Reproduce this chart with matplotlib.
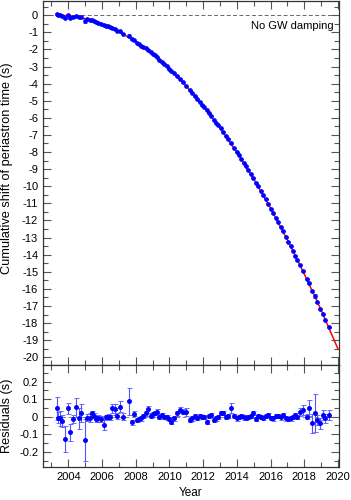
import matplotlib
matplotlib.use("Agg")
import matplotlib.pyplot as plt
from matplotlib.ticker import MultipleLocator

plt.rcParams['font.family'] = ['Liberation Sans', 'DejaVu Sans']
plt.rcParams['axes.unicode_minus'] = False

# Observation epochs (year)
years = [2003.31, 2003.41, 2003.51, 2003.64, 2003.80, 2003.96, 2004.12, 2004.30, 2004.45, 2004.61,
         2004.77, 2004.97, 2005.13, 2005.28, 2005.40, 2005.54, 2005.64, 2005.78, 2005.92, 2006.11,
         2006.23, 2006.37, 2006.47, 2006.61, 2006.77, 2006.91, 2007.08, 2007.26, 2007.58, 2007.75,
         2007.91, 2008.09, 2008.21, 2008.33, 2008.45, 2008.58, 2008.72, 2008.88, 2009.00, 2009.12,
         2009.24, 2009.40, 2009.53, 2009.67, 2009.83, 2009.97, 2010.09, 2010.25, 2010.42, 2010.62,
         2010.81, 2011.01, 2011.21, 2011.35, 2011.51, 2011.66, 2011.80, 2011.94, 2012.06, 2012.20,
         2012.34, 2012.49, 2012.65, 2012.77, 2012.89, 2013.03, 2013.19, 2013.34, 2013.48, 2013.68,
         2013.84, 2013.98, 2014.11, 2014.27, 2014.41, 2014.53, 2014.67, 2014.83, 2014.96, 2015.12,
         2015.26, 2015.42, 2015.56, 2015.70, 2015.85, 2016.01, 2016.15, 2016.31, 2016.45, 2016.60,
         2016.74, 2016.90, 2017.04, 2017.18, 2017.34, 2017.47, 2017.59, 2017.75, 2017.93, 2018.13,
         2018.28, 2018.46, 2018.62, 2018.78, 2018.94, 2019.11, 2019.25, 2019.45]

# Cumulative shift of periastron time (s)
shift = [0.05, -0.01, -0.01, -0.03, -0.15, 0.02, -0.14, -0.08, -0.04, -0.13,
         -0.13, -0.33, -0.24, -0.28, -0.29, -0.35, -0.40, -0.44, -0.49, -0.60,
         -0.61, -0.66, -0.71, -0.72, -0.80, -0.91, -0.94, -1.10, -1.19, -1.42,
         -1.47, -1.63, -1.70, -1.78, -1.85, -1.93, -2.01, -2.17, -2.26, -2.35,
         -2.44, -2.60, -2.71, -2.84, -2.99, -3.13, -3.26, -3.39, -3.53, -3.71,
         -3.92, -4.14, -4.40, -4.55, -4.71, -4.90, -5.05, -5.23, -5.37, -5.57,
         -5.71, -5.90, -6.14, -6.29, -6.44, -6.61, -6.83, -7.06, -7.25, -7.49,
         -7.77, -7.99, -8.18, -8.42, -8.64, -8.83, -9.05, -9.30, -9.50, -9.79,
         -10.01, -10.28, -10.53, -10.76, -11.02, -11.31, -11.57, -11.84, -12.10, -12.39,
         -12.63, -12.96, -13.23, -13.50, -13.80, -14.05, -14.29, -14.59, -14.94, -15.40,
         -15.66, -16.13, -16.41, -16.79, -17.16, -17.49, -17.82, -18.25]

# Residuals (s) and their uncertainties
resid = [0.048, -0.005, -0.010, -0.025, -0.128, 0.048, -0.090, -0.013, 0.053, -0.010,
         0.022, -0.133, -0.006, -0.006, 0.020, 0.005, -0.013, -0.010, -0.013, -0.045,
         -0.004, 0.000, -0.004, 0.048, 0.042, 0.004, 0.057, 0.000, 0.088, -0.032,
         0.018, -0.020, -0.015, -0.010, 0.004, 0.020, 0.042, 0.006, 0.013, 0.020,
         0.028, 0.000, 0.010, 0.000, -0.004, -0.015, -0.028, -0.010, 0.020, 0.038,
         0.028, 0.025, -0.020, -0.010, 0.004, -0.006, 0.004, 0.000, 0.000, -0.028,
         0.006, 0.010, -0.020, -0.010, 0.000, 0.020, 0.020, 0.000, 0.004, 0.048,
         0.006, -0.010, 0.000, 0.006, -0.004, -0.006, 0.000, 0.006, 0.020, -0.013,
         0.006, 0.000, -0.006, 0.004, 0.010, -0.006, -0.010, 0.006, 0.004, -0.004,
         0.010, -0.010, -0.013, -0.010, 0.000, 0.010, 0.000, 0.028, 0.038, 0.000,
         0.048, -0.038, 0.020, -0.020, -0.038, 0.010, -0.010, 0.010]
resid_err = [0.065, 0.030, 0.045, 0.035, 0.075, 0.032, 0.050, 0.025, 0.052, 0.058,
             0.050, 0.120, 0.020, 0.025, 0.015, 0.015, 0.015, 0.020, 0.015, 0.030,
             0.015, 0.015, 0.015, 0.025, 0.030, 0.015, 0.032, 0.020, 0.078, 0.015,
             0.015, 0.012, 0.012, 0.012, 0.012, 0.015, 0.020, 0.012, 0.012, 0.012,
             0.015, 0.012, 0.012, 0.012, 0.012, 0.012, 0.012, 0.012, 0.015, 0.018,
             0.015, 0.022, 0.012, 0.012, 0.012, 0.012, 0.012, 0.012, 0.012, 0.012,
             0.012, 0.012, 0.012, 0.012, 0.012, 0.012, 0.012, 0.012, 0.012, 0.028,
             0.012, 0.012, 0.012, 0.012, 0.012, 0.012, 0.012, 0.012, 0.012, 0.012,
             0.012, 0.012, 0.012, 0.012, 0.012, 0.012, 0.012, 0.012, 0.012, 0.012,
             0.012, 0.012, 0.012, 0.012, 0.012, 0.012, 0.012, 0.022, 0.028, 0.015,
             0.045, 0.055, 0.110, 0.030, 0.030, 0.030, 0.025, 0.030]

# GR model curve
model_years = [2003.3, 2004, 2005, 2006, 2007, 2008, 2009, 2010, 2011, 2012,
               2013, 2014, 2015, 2016, 2017, 2018, 2019, 2020]
model_shift = [0.0, -0.03, -0.20, -0.51, -0.96, -1.55, -2.27, -3.14, -4.15, -5.30,
               -6.59, -8.01, -9.58, -11.29, -13.14, -15.13, -17.25, -19.52]

label_text = "No GW damping"

fig = plt.figure(figsize=(3.51, 5.0), dpi=100)
ax1 = fig.add_axes([0.1225, 0.270, 0.843, 0.728])
ax2 = fig.add_axes([0.1225, 0.066, 0.843, 0.204])

blue = '#0000ff'
ebc = '#5555ff'
spine_c = '#333333'
tick_c = '#555555'

for ax in (ax1, ax2):
    ax.set_xlim(2002.5, 2020.05)
    ax.xaxis.set_major_locator(MultipleLocator(2))
    ax.xaxis.set_minor_locator(MultipleLocator(1))
    ax.tick_params(which='both', direction='in', top=True, right=True,
                   color=tick_c, labelsize=8, width=0.8)
    ax.tick_params(which='major', length=6)
    ax.tick_params(which='minor', length=3.5)
    for s in ax.spines.values():
        s.set_color(spine_c)
        s.set_linewidth(0.9)

# Top panel
ax1.axhline(0, color='#666666', lw=0.7, ls=(0, (4, 2.5)), zorder=1)
ax1.plot(model_years, model_shift, color='red', lw=1.1, zorder=2)
ax1.errorbar(years, shift, yerr=resid_err, fmt='o', ms=2.7, mfc=blue, mec=blue,
             mew=0.6, ecolor=ebc, elinewidth=0.8, capsize=1.5, zorder=3)
ax1.set_ylim(-20.45, 0.83)
ax1.yaxis.set_major_locator(MultipleLocator(1))
ax1.yaxis.set_minor_locator(MultipleLocator(0.5))
ax1.set_yticks(range(-20, 1))
ax1.set_yticklabels([str(v) for v in range(-20, 1)])
ax1.tick_params(axis='x', labelbottom=False)
ax1.set_ylabel("Cumulative shift of periastron time (s)", fontsize=9.2)
ax1.yaxis.set_label_coords(-0.102, 0.54)
ax1.text(2019.75, -0.35, label_text, ha='right', va='top', fontsize=8)

# Bottom panel
ax2.axhline(0, color='#888888', lw=0.7, ls=(0, (4, 2.5)), zorder=1)
ax2.errorbar(years, resid, yerr=resid_err, fmt='o', ms=2.9, mfc=blue, mec=blue,
             mew=0.6, ecolor=ebc, elinewidth=0.8, capsize=1.8, zorder=3)
ax2.set_ylim(-0.287, 0.295)
ax2.yaxis.set_major_locator(MultipleLocator(0.1))
ax2.yaxis.set_minor_locator(MultipleLocator(0.05))
ax2.set_yticks([-0.2, -0.1, 0, 0.1, 0.2])
ax2.set_yticklabels(['-0.2', '-0.1', '0', '0.1', '0.2'])
ax2.set_ylabel("Residuals (s)", fontsize=9.2)
ax2.yaxis.set_label_coords(-0.102, 0.5)
ax2.set_xlabel("Year", fontsize=8.5, labelpad=4)

fig.savefig("out.png", dpi=100)
